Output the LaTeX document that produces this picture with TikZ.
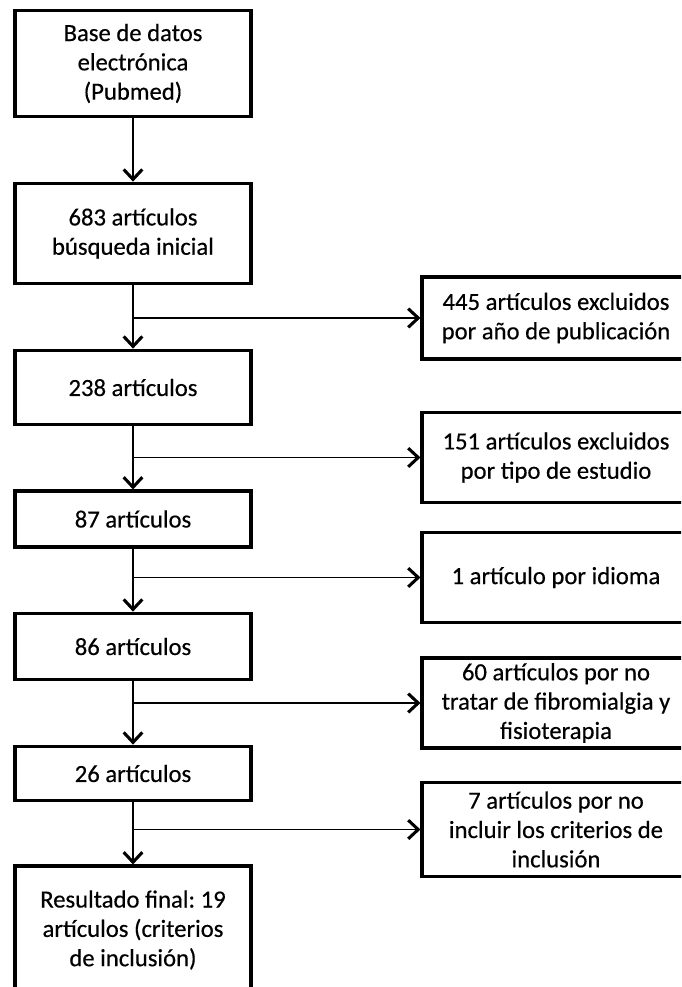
\documentclass[tikz,border=0pt]{standalone}
\usepackage{fontspec}
\setmainfont{Carlito}[FakeBold=0.4]
\frenchspacing
\usetikzlibrary{arrows.meta}
\begin{document}
\begin{tikzpicture}[x=0.75pt,y=-0.75pt,
  box/.style={draw=black,line width=2.3pt,fill=white,align=center,
    inner sep=0pt,font=\fontsize{18.5}{22}\selectfont\frenchspacing},
  mainbox/.style={box,minimum width=177pt},
  sidebox/.style={box,minimum width=201pt},
  link/.style={draw=black,line width=1pt,
    -{Straight Barb[line width=2.3pt,length=7.5pt,width=14pt]}},
  branch/.style={link}]
\useasboundingbox (0,0) rectangle (681,987);
\clip (0,0) rectangle (681,987);
\fill[white] (0,0) rectangle (681,987);

% main column
\node[mainbox,minimum height=80pt] (b1) at (133,63.5) {Base de datos\\electrónica\\(Pubmed)};
\node[mainbox,minimum height=75.5pt] (b2) at (133,233.5) {683 artículos\\búsqueda inicial};
\node[mainbox,minimum height=56pt] (b3) at (133,387.5) {238 artículos};
\node[mainbox,minimum height=42pt] (b4) at (133,519) {87 artículos};
\node[mainbox,minimum height=50pt] (b5) at (133,646.5) {86 artículos};
\node[mainbox,minimum height=41pt] (b6) at (133,773.5) {26 artículos};
\node[mainbox,minimum height=96pt] (b7) at (133,930) {Resultado final: 19\\artículos (criterios\\de inclusión)};

% excluded records
\node[sidebox,minimum height=61.5pt] (r1) at (556,318) {445 artículos excluidos\\por año de publicación};
\node[sidebox,minimum height=68pt] (r2) at (556,457.5) {151 artículos excluidos\\por tipo de estudio};
\node[sidebox,minimum height=67pt] (r3) at (556,577.5) {1 artículo por idioma};
\node[sidebox,minimum height=67.5pt] (r4) at (556,703) {60 artículos por no\\tratar de fibromialgia y\\fisioterapia};
\node[sidebox,minimum height=70pt] (r5) at (556,829.5) {7 artículos por no\\incluir los criterios de\\inclusión};

% flow down the column
\draw[link] (b1) -- (b2);
\draw[link] (b2) -- (b3);
\draw[link] (b3) -- (b4);
\draw[link] (b4) -- (b5);
\draw[link] (b5) -- (b6);
\draw[link] (b6) -- (b7);

% side branches
\coordinate (j1) at (b2.south |- r1.west);
\coordinate (j2) at (b3.south |- r2.west);
\coordinate (j3) at (b4.south |- r3.west);
\coordinate (j4) at (b5.south |- r4.west);
\coordinate (j5) at (b6.south |- r5.west);
\draw[branch] (j1) -- (r1.west);
\draw[branch] (j2) -- (r2.west);
\draw[branch] (j3) -- (r3.west);
\draw[branch] (j4) -- (r4.west);
\draw[branch] (j5) -- (r5.west);
\end{tikzpicture}
\end{document}
